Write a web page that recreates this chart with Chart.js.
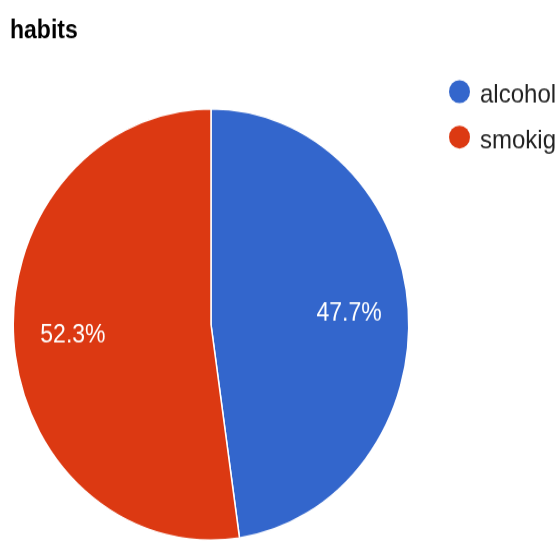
<!DOCTYPE html>
<html>
<head>
<meta charset="utf-8">
<title>habits</title>
<script src="https://cdn.jsdelivr.net/npm/chart.js@4.4.1/dist/chart.umd.min.js"></script>
<style>
  html, body { margin: 0; padding: 0; background: #ffffff; overflow: hidden; width: 560px; height: 541px; }
  #wrap { width: 560px; height: 496px; transform: scaleY(1.0907); transform-origin: 0 0; }
  canvas { display: block; }
</style>
</head>
<body>
<div id="wrap"><canvas id="chart" width="560" height="496"></canvas></div>
<script>
const chartTitle = 'habits';
const categories = ['alcohol', 'smokig'];
const shares = [47.7, 52.3];
const sliceColors = ['#3366cc', '#dc3912'];

// Percent labels inside each slice, placed along the slice's middle angle
const sliceLabels = {
  id: 'sliceLabels',
  afterDatasetsDraw(chart) {
    const ctx = chart.ctx;
    const meta = chart.getDatasetMeta(0);
    const values = chart.data.datasets[0].data;
    const total = values.reduce((a, b) => a + b, 0);
    ctx.save();
    ctx.font = '23px "Liberation Sans", Arial, sans-serif';
    ctx.fillStyle = '#ffffff';
    ctx.textAlign = 'center';
    ctx.textBaseline = 'middle';
    meta.data.forEach((arc, i) => {
      const p = arc.getProps(['x', 'y', 'startAngle', 'endAngle', 'outerRadius'], true);
      const mid = (p.startAngle + p.endAngle) / 2;
      const r = p.outerRadius * 0.7;
      const text = (values[i] / total * 100).toFixed(1) + '%';
      ctx.fillText(text, p.x + Math.cos(mid) * r, p.y + Math.sin(mid) * r);
    });
    ctx.restore();
  }
};

// Title at top left and a circle-marker legend on the right
const titleAndLegend = {
  id: 'titleAndLegend',
  afterDraw(chart) {
    const ctx = chart.ctx;
    const ds = chart.data.datasets[0];
    ctx.save();
    ctx.font = 'bold 23px "Liberation Sans", Arial, sans-serif';
    ctx.fillStyle = '#000000';
    ctx.textAlign = 'left';
    ctx.textBaseline = 'alphabetic';
    ctx.fillText(chartTitle, 10, 35);

    ctx.font = '24px "Liberation Sans", Arial, sans-serif';
    chart.data.labels.forEach((label, i) => {
      const cy = 84 + i * 41.7;
      ctx.beginPath();
      ctx.arc(459.5, cy, 10.5, 0, Math.PI * 2);
      ctx.fillStyle = ds.backgroundColor[i];
      ctx.fill();
      ctx.fillStyle = '#222222';
      ctx.fillText(label, 480, cy + 10);
    });
    ctx.restore();
  }
};

new Chart(document.getElementById('chart'), {
  type: 'pie',
  data: {
    labels: categories,
    datasets: [{
      data: shares,
      backgroundColor: sliceColors,
      borderColor: '#ffffff',
      borderWidth: 1.5
    }]
  },
  options: {
    responsive: false,
    animation: false,
    devicePixelRatio: 1,
    layout: { padding: { left: 12, right: 150, top: 99, bottom: 0 } },
    plugins: {
      legend: { display: false },
      title: { display: false },
      tooltip: { enabled: false }
    }
  },
  plugins: [sliceLabels, titleAndLegend]
});
</script>
</body>
</html>
